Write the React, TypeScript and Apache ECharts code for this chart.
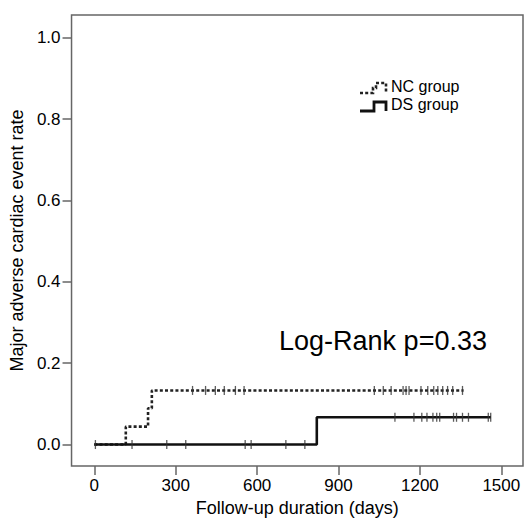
import React, { useEffect, useRef } from "react";
import * as echarts from "echarts";

// ---- data ----
const xTicks = [0, 300, 600, 900, 1200, 1500];
const yTicks = [0, 0.2, 0.4, 0.6, 0.8, 1.0];

const ncEventDays = [116, 198, 212];
const ncEventRates = [0.044, 0.089, 0.133];
const ncEndDay = 1361;
const ncCensorDays = [4, 362, 410, 446, 479, 520, 552, 1032, 1065, 1094, 1138, 1149, 1160, 1204, 1229, 1251, 1266, 1284, 1302, 1321, 1357];

const dsEventDays = [820];
const dsEventRates = [0.067];
const dsEndDay = 1462;
const dsCensorDays = [139, 267, 337, 556, 578, 706, 776, 1108, 1178, 1207, 1226, 1248, 1262, 1273, 1324, 1335, 1357, 1379, 1452, 1461];

const seriesNames = ["NC group", "DS group"];
const annotation = "Log-Rank p=0.33";
const xTitle = "Follow-up duration (days)";
const yTitle = "Major adverse cardiac event rate";

function stepPoints(days: number[], rates: number[], end: number): number[][] {
  const pts: number[][] = [[0, 0]];
  let prev = 0;
  days.forEach((d, i) => {
    pts.push([d, prev]);
    pts.push([d, rates[i]]);
    prev = rates[i];
  });
  pts.push([end, prev]);
  return pts;
}

function rateAt(days: number[], rates: number[], t: number): number {
  let r = 0;
  days.forEach((d, i) => {
    if (t >= d) r = rates[i];
  });
  return r;
}

const FONT = "'Liberation Sans', Arial, Helvetica, sans-serif";

export default function App() {
  const ref = useRef<HTMLDivElement>(null);
  useEffect(() => {
    document.body.style.margin = "0";
    if (!ref.current) return;
    const chart = echarts.init(ref.current, undefined, { renderer: "svg" });
    const ncLine = stepPoints(ncEventDays, ncEventRates, ncEndDay);
    const dsLine = stepPoints(dsEventDays, dsEventRates, dsEndDay);
    const ncCens = ncCensorDays.map((d) => [d, rateAt(ncEventDays, ncEventRates, d)]);
    const dsCens = dsCensorDays.map((d) => [d, rateAt(dsEventDays, dsEventRates, d)]);
    const axisGray = "#666";
    chart.setOption({
      animation: false,
      backgroundColor: "#fff",
      textStyle: { fontFamily: FONT },
      grid: {
        left: 68,
        top: 15,
        width: 455,
        height: 459,
        show: true,
        borderColor: axisGray,
        borderWidth: 1.5,
        backgroundColor: "#fff",
      },
      xAxis: {
        type: "value",
        min: -84,
        max: 1580,
        axisLine: { show: false, onZero: false },
        splitLine: { show: false },
        axisTick: {
          show: true,
          inside: false,
          length: 9,
          customValues: xTicks,
          lineStyle: { color: axisGray, width: 1.5 },
        },
        axisLabel: {
          customValues: xTicks,
          margin: 11,
          fontSize: 17,
          color: "#000",
          fontFamily: FONT,
          formatter: (v: number) => String(v),
        },
        name: xTitle,
        nameLocation: "middle",
        nameGap: 29,
        nameTextStyle: { fontSize: 18, color: "#000", fontFamily: FONT },
      },
      yAxis: {
        type: "value",
        min: -0.053,
        max: 1.056,
        axisLine: { show: false, onZero: false },
        splitLine: { show: false },
        axisTick: {
          show: true,
          inside: false,
          length: 9,
          customValues: yTicks,
          lineStyle: { color: axisGray, width: 1.5 },
        },
        axisLabel: {
          customValues: yTicks,
          margin: 11,
          fontSize: 17,
          color: "#000",
          fontFamily: FONT,
          formatter: (v: number) => v.toFixed(1),
        },
        name: yTitle,
        nameLocation: "middle",
        nameRotate: 90,
        nameGap: 41,
        nameTextStyle: { fontSize: 18, color: "#000", fontFamily: FONT },
      },
      series: [
        {
          name: seriesNames[0],
          type: "line",
          data: ncLine,
          showSymbol: false,
          symbol: "none",
          lineStyle: { color: "#222", width: 2.6, type: [3, 2.2], cap: "butt" },
          z: 3,
        },
        {
          name: seriesNames[1],
          type: "line",
          data: dsLine,
          showSymbol: false,
          symbol: "none",
          lineStyle: { color: "#111", width: 2.6, type: "solid" },
          z: 3,
        },
        {
          name: seriesNames[0] + " censored",
          type: "scatter",
          data: ncCens,
          symbol: "rect",
          symbolSize: [1.3, 9],
          itemStyle: { color: "#333" },
          z: 4,
        },
        {
          name: seriesNames[1] + " censored",
          type: "scatter",
          data: dsCens,
          symbol: "rect",
          symbolSize: [1.3, 9],
          itemStyle: { color: "#333" },
          z: 4,
        },
      ],
      graphic: [
        {
          type: "polyline",
          shape: { points: [[360, 93], [373, 93], [373, 88], [376, 88], [376, 83], [386, 83], [386, 93]] },
          style: { stroke: "#222", lineWidth: 2.6, lineDash: [3, 2.2], fill: null },
        },
        {
          type: "polyline",
          shape: { points: [[360, 111], [374, 111], [374, 102], [386, 102], [386, 111]] },
          style: { stroke: "#111", lineWidth: 2.8, fill: null },
        },
        {
          type: "text",
          x: 391,
          y: 86.5,
          style: { text: seriesNames[0], fontSize: 16, fill: "#000", fontFamily: FONT, verticalAlign: "middle" },
        },
        {
          type: "text",
          x: 391,
          y: 104.5,
          style: { text: seriesNames[1], fontSize: 16, fill: "#000", fontFamily: FONT, verticalAlign: "middle" },
        },
        {
          type: "text",
          x: 383,
          y: 341,
          style: { text: annotation, fontSize: 27, fill: "#000", fontFamily: FONT, align: "center", verticalAlign: "middle" },
        },
      ],
    });
    return () => chart.dispose();
  }, []);
  return <div ref={ref} style={{ width: 525, height: 522 }} />;
}
